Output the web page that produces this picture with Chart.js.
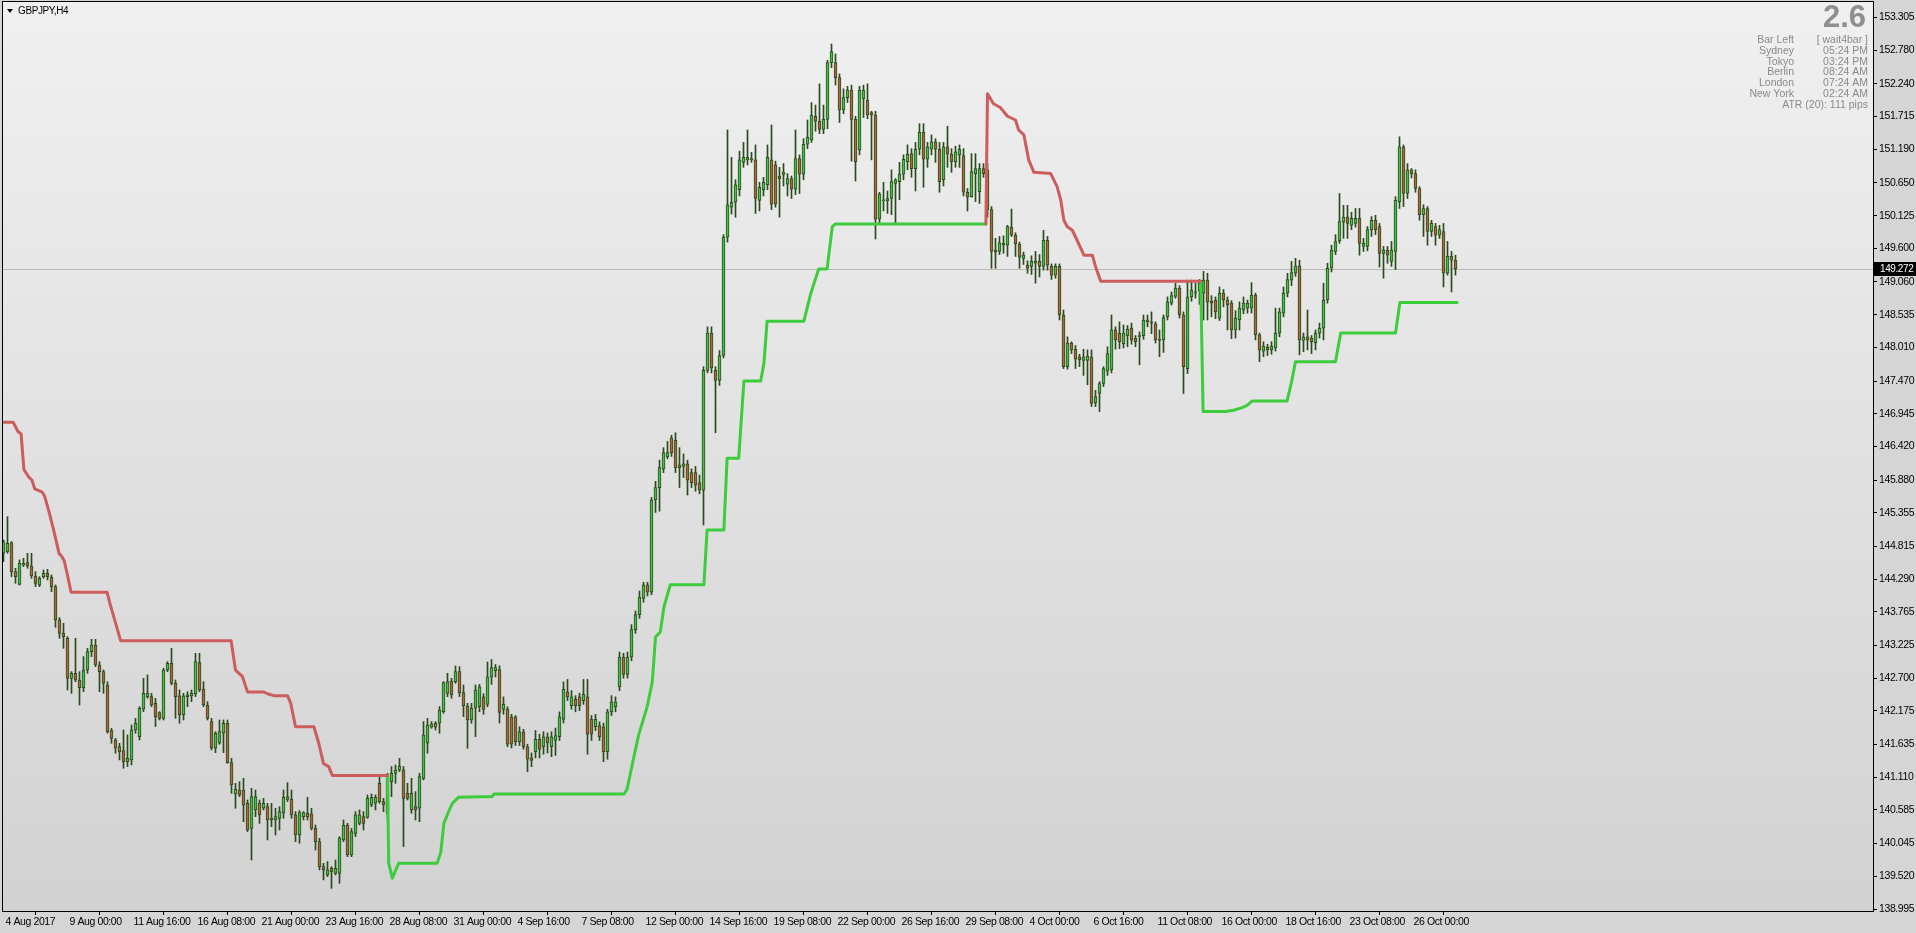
<!DOCTYPE html>
<html>
<head>
<meta charset="utf-8">
<script src="https://cdn.jsdelivr.net/npm/chart.js@4.4.1/dist/chart.umd.min.js"></script>
<style>
html, body { margin: 0; padding: 0; background: #d5d5d5; overflow: hidden; }
#c { display: block; }
</style>
</head>
<body>
<canvas id="c" width="1916" height="933"></canvas>
<script>
// GBPJPY H4, one entry per bar starting 4 Aug 2017 08:00
const dateLabels = ['4 Aug 2017', '9 Aug 00:00', '11 Aug 16:00', '16 Aug 08:00', '21 Aug 00:00', '23 Aug 16:00',
    '28 Aug 08:00', '31 Aug 00:00', '4 Sep 16:00', '7 Sep 08:00', '12 Sep 00:00', '14 Sep 16:00', '19 Sep 08:00',
    '22 Sep 00:00', '26 Sep 16:00', '29 Sep 08:00', '4 Oct 00:00', '6 Oct 16:00', '11 Oct 08:00', '16 Oct 00:00',
    '18 Oct 16:00', '23 Oct 08:00', '26 Oct 00:00'];
const barsPerLabel = 16;

const priceTicks = [153.305, 152.780, 152.240, 151.715, 151.190, 150.650, 150.125, 149.600, 149.060, 148.535,
    148.010, 147.470, 146.945, 146.420, 145.880, 145.355, 144.815, 144.290, 143.765, 143.225, 142.700, 142.175,
    141.635, 141.110, 140.585, 140.045, 139.520, 138.995];
const bid = 149.272;

const opens = [
    144.705, 144.731, 144.876, 144.410, 144.207, 144.517, 144.555, 144.501, 144.341, 144.196,
    144.330, 144.383, 144.319, 144.170, 143.635, 143.420, 143.340, 142.698, 142.778, 142.671,
    142.548, 142.832, 143.126, 143.233, 142.912, 142.805, 142.591, 141.858, 141.708, 141.601,
    141.537, 141.361, 141.388, 141.869, 141.762, 142.201, 142.404, 142.404, 142.297, 142.147,
    142.056, 142.832, 142.939, 142.618, 142.415, 142.110, 142.404, 142.415, 142.447, 142.950,
    142.527, 142.270, 142.003, 141.575, 141.655, 141.816, 141.976, 141.345, 140.842, 140.905,
    140.905, 140.692, 140.290, 140.585, 140.692, 140.612, 140.638, 140.451, 140.424, 140.451,
    140.542, 140.756, 140.756, 140.505, 140.183, 140.478, 140.531, 140.521, 140.290, 140.077,
    139.676, 139.542, 139.649, 139.568, 139.568, 140.103, 140.344, 139.863, 140.210, 140.370,
    140.478, 140.467, 140.665, 140.692, 141.013, 140.719, 140.531, 141.039, 141.173, 141.227,
    141.227, 140.852, 140.585, 140.638, 140.612, 141.093, 141.655, 141.912, 141.976, 141.976,
    142.163, 142.457, 142.655, 142.644, 142.805, 142.468, 142.254, 142.029, 142.217, 142.242,
    142.40, 142.28, 142.72, 142.82, 142.84, 142.20, 142.20, 142.08, 142.08, 141.68,
    141.84, 141.60, 141.42, 141.52, 141.72, 141.60, 141.76, 141.60, 141.70, 141.76,
    142.04, 142.48, 142.26, 142.36, 142.40, 142.34, 142.40, 142.04, 141.92, 141.94,
    141.92, 141.52, 142.16, 142.24, 142.56, 143.04, 142.76, 143.04, 143.48, 143.72,
    143.98, 144.20, 144.08, 145.56, 145.76, 146.06, 146.25, 146.56, 146.52, 146.12,
    146.10, 146.14, 146.00, 146.00, 145.84, 145.72, 147.64, 148.24, 147.64, 147.48,
    147.88, 149.78, 150.26, 150.34, 150.54, 150.98, 151.02, 151.04, 151.02, 150.37,
    150.54, 150.62, 151.02, 150.94, 150.76, 150.78, 150.63, 150.72, 150.55, 151.04,
    150.79, 151.27, 151.34, 151.72, 151.64, 151.51, 151.67, 152.58, 152.58, 152.34,
    151.82, 152.02, 152.14, 151.67, 151.18, 152.00, 151.98, 151.78, 151.74, 150.07,
    150.36, 150.36, 150.40, 150.64, 150.67, 150.79, 150.99, 151.12, 150.88, 151.19,
    151.46, 151.03, 151.19, 151.31, 151.19, 150.70, 151.23, 151.11, 150.99, 151.10,
    151.09, 150.50, 150.43, 150.80, 150.51, 150.88, 150.86, 150.22, 149.57, 149.55,
    149.65, 149.65, 149.94, 149.81, 149.67, 149.44, 149.33, 149.31, 149.36, 149.39,
    149.31, 149.73, 149.31, 149.17, 149.31, 148.53, 147.70, 148.08, 147.98, 147.86,
    147.80, 147.80, 147.86, 147.12, 147.27, 147.43, 147.63, 147.65, 148.29, 148.24,
    148.07, 148.20, 148.32, 148.16, 148.18, 148.20, 148.45, 148.42, 148.39, 148.14,
    148.13, 148.50, 148.72, 148.83, 148.96, 148.53, 147.67, 148.82, 148.88, 148.92,
    148.88, 149.09, 148.75, 148.77, 148.48, 148.88, 148.77, 148.72, 148.29, 148.45,
    148.61, 148.64, 148.64, 148.85, 148.21, 147.95, 148.01, 147.97, 148.00, 148.24,
    148.56, 148.88, 149.09, 149.20, 149.32, 148.12, 148.18, 148.16, 148.08, 148.24,
    148.32, 148.77, 149.28, 149.55, 149.72, 150.02, 150.10, 149.97, 150.00, 150.08,
    149.63, 149.63, 149.90, 150.05, 149.95, 149.52, 149.57, 149.39, 149.55, 150.35,
    151.23, 150.48, 150.86, 150.80, 150.56, 150.14, 150.24, 149.87, 149.95, 149.81,
    149.87, 149.20, 149.47, 149.41
];
const highs = [
    144.918, 145.293, 144.892, 144.464, 144.598, 144.624, 144.705, 144.705, 144.410, 144.330,
    144.437, 144.448, 144.357, 144.196, 143.672, 143.581, 143.367, 142.805, 143.340, 142.805,
    143.046, 143.180, 143.324, 143.324, 142.966, 142.832, 142.644, 141.896, 141.735, 141.655,
    141.869, 141.789, 141.949, 142.056, 142.243, 142.698, 142.752, 142.457, 142.377, 142.163,
    142.859, 142.966, 143.180, 142.671, 142.511, 142.457, 142.484, 142.511, 143.100, 143.100,
    142.644, 142.324, 142.056, 141.842, 142.029, 142.029, 142.029, 141.414, 141.013, 141.039,
    141.093, 140.745, 140.933, 140.905, 140.745, 140.772, 140.692, 140.692, 140.612, 140.638,
    140.905, 141.023, 140.905, 140.558, 140.574, 140.558, 140.788, 140.612, 140.344, 140.130,
    139.729, 139.756, 139.676, 139.782, 140.157, 140.424, 140.370, 140.290, 140.558, 140.585,
    140.558, 140.826, 140.842, 140.826, 141.120, 140.772, 141.173, 141.281, 141.307, 141.414,
    141.281, 141.013, 141.093, 140.879, 141.173, 142.003, 142.056, 142.003, 142.003, 142.243,
    142.644, 142.778, 142.698, 142.896, 142.885, 142.591, 142.297, 142.297, 142.591, 142.601,
    142.45, 142.96, 143.00, 142.92, 142.90, 142.40, 142.24, 142.12, 142.10, 141.92,
    141.88, 141.64, 141.50, 141.86, 141.80, 141.84, 141.82, 141.84, 141.90, 142.16,
    142.64, 142.68, 142.50, 142.42, 142.46, 142.68, 142.68, 142.10, 142.12, 142.00,
    141.98, 142.20, 142.42, 142.40, 143.12, 143.10, 143.12, 143.56, 143.78, 144.10,
    144.24, 144.24, 145.60, 145.86, 146.20, 146.40, 146.50, 146.60, 146.64, 146.40,
    146.30, 146.20, 146.06, 146.10, 145.96, 147.70, 148.34, 148.34, 147.70, 147.96,
    149.82, 151.50, 151.06, 150.70, 151.16, 151.30, 151.50, 151.14, 151.26, 150.66,
    150.74, 151.26, 151.58, 151.00, 150.90, 150.96, 150.80, 150.76, 151.50, 151.10,
    151.36, 151.66, 151.94, 151.90, 152.24, 151.90, 152.62, 152.88, 152.72, 152.40,
    152.16, 152.20, 152.22, 151.72, 152.20, 152.22, 152.24, 151.80, 151.80, 150.50,
    150.66, 150.52, 150.86, 150.72, 150.98, 151.10, 151.26, 151.20, 151.30, 151.60,
    151.60, 151.30, 151.42, 151.36, 151.30, 151.30, 151.56, 151.20, 151.24, 151.26,
    151.20, 150.56, 151.12, 151.12, 150.96, 150.96, 150.96, 150.27, 149.76, 149.79,
    149.80, 149.97, 150.23, 149.85, 149.70, 149.54, 149.40, 149.48, 149.55, 149.50,
    149.89, 149.79, 149.35, 149.35, 149.35, 148.61, 148.18, 148.10, 148.04, 147.90,
    147.98, 147.97, 147.97, 147.32, 147.46, 147.70, 148.02, 148.53, 148.34, 148.42,
    148.37, 148.36, 148.40, 148.20, 148.26, 148.53, 148.53, 148.58, 148.42, 148.29,
    148.53, 148.82, 148.90, 149.04, 149.00, 148.58, 149.09, 149.09, 149.04, 149.10,
    149.23, 149.20, 148.84, 148.82, 148.98, 148.94, 148.82, 148.76, 148.60, 148.74,
    148.82, 148.77, 149.05, 148.88, 148.24, 148.10, 148.06, 148.10, 148.64, 148.64,
    148.98, 149.20, 149.39, 149.44, 149.41, 148.24, 148.61, 148.20, 148.29, 148.40,
    149.04, 149.36, 149.65, 149.82, 150.48, 150.29, 150.29, 150.18, 150.24, 150.24,
    149.76, 149.95, 150.11, 150.13, 150.00, 149.63, 149.63, 149.71, 150.43, 151.39,
    151.26, 150.96, 150.88, 150.86, 150.59, 150.30, 150.27, 150.05, 150.00, 149.97,
    150.00, 149.71, 149.55, 149.49
];
const lows = [
    144.571, 144.705, 144.330, 144.223, 144.196, 144.491, 144.464, 144.303, 144.170, 144.170,
    144.303, 144.277, 144.089, 143.517, 143.340, 143.180, 142.511, 142.457, 142.644, 142.270,
    142.484, 142.778, 143.046, 142.885, 142.484, 142.457, 141.816, 141.655, 141.495, 141.388,
    141.254, 141.281, 141.308, 141.816, 141.708, 142.163, 142.377, 142.243, 141.923, 142.029,
    142.029, 142.805, 142.591, 142.056, 141.976, 142.029, 142.243, 142.324, 142.404, 142.484,
    142.243, 142.029, 141.548, 141.505, 141.640, 141.505, 141.334, 140.852, 140.612, 140.799,
    140.397, 140.237, 139.782, 140.478, 140.370, 140.585, 140.103, 140.317, 140.183, 140.264,
    140.451, 140.719, 140.451, 140.077, 140.050, 140.424, 140.424, 140.264, 139.943, 139.622,
    139.462, 139.515, 139.327, 139.542, 139.408, 140.077, 139.835, 139.835, 140.157, 140.344,
    140.264, 140.451, 140.638, 140.585, 140.692, 140.558, 140.451, 140.799, 141.013, 141.200,
    139.997, 140.745, 140.531, 140.424, 140.397, 141.067, 141.495, 141.896, 141.869, 141.816,
    142.136, 142.404, 142.377, 142.618, 142.404, 142.083, 141.575, 141.976, 141.762, 142.162,
    142.12, 142.24, 142.60, 142.72, 141.98, 142.12, 141.60, 141.58, 141.62, 141.62,
    141.56, 141.20, 141.28, 141.42, 141.42, 141.48, 141.50, 141.44, 141.46, 141.70,
    141.98, 142.34, 142.20, 142.16, 142.18, 142.28, 141.48, 141.70, 141.86, 141.70,
    141.36, 141.40, 142.10, 142.16, 142.50, 142.70, 142.70, 142.98, 143.42, 143.66,
    143.92, 144.02, 144.04, 145.36, 145.38, 146.00, 146.22, 146.26, 146.00, 145.76,
    145.92, 145.64, 145.76, 145.70, 145.66, 145.16, 147.60, 147.60, 146.64, 147.40,
    147.84, 149.70, 150.15, 150.10, 150.44, 150.90, 150.94, 150.98, 150.16, 150.20,
    150.44, 150.54, 150.22, 150.26, 150.10, 150.60, 150.44, 150.40, 150.46, 150.48,
    150.70, 151.20, 151.30, 151.48, 151.44, 151.44, 151.52, 152.50, 152.22, 151.62,
    151.76, 151.94, 151.00, 150.68, 151.10, 151.70, 151.68, 151.02, 149.75, 149.98,
    150.20, 150.16, 150.14, 149.98, 150.38, 150.70, 150.86, 150.74, 150.52, 151.10,
    150.58, 150.90, 151.10, 150.98, 150.50, 150.60, 150.90, 150.82, 150.90, 150.90,
    150.44, 150.20, 150.42, 150.35, 150.32, 150.74, 150.10, 149.28, 149.28, 149.50,
    149.52, 149.47, 149.79, 149.47, 149.28, 149.34, 149.20, 149.18, 149.04, 149.14,
    149.25, 149.25, 149.10, 149.12, 148.45, 147.67, 147.66, 147.91, 147.67, 147.70,
    147.56, 147.41, 147.06, 147.06, 146.98, 147.38, 147.56, 147.60, 147.98, 147.99,
    148.00, 148.02, 148.06, 148.02, 147.73, 148.14, 148.34, 148.23, 148.08, 147.86,
    147.93, 148.45, 148.69, 148.80, 148.48, 147.27, 147.59, 148.75, 148.80, 148.70,
    148.45, 148.45, 148.50, 148.47, 148.44, 148.66, 148.29, 148.15, 148.16, 148.29,
    148.55, 148.56, 148.56, 148.13, 147.78, 147.86, 147.88, 147.90, 147.95, 148.18,
    148.50, 148.82, 149.00, 149.15, 147.89, 147.94, 147.97, 147.91, 147.97, 148.16,
    148.13, 148.72, 149.22, 149.50, 149.68, 149.76, 149.76, 149.90, 149.94, 149.49,
    149.55, 149.56, 149.79, 149.82, 149.30, 149.12, 149.36, 149.31, 149.26, 150.24,
    150.27, 150.40, 150.73, 150.50, 150.05, 149.79, 149.65, 149.79, 149.65, 149.76,
    148.98, 149.17, 148.90, 149.17
];
const closes = [
    144.892, 144.865, 144.410, 144.330, 144.544, 144.544, 144.501, 144.341, 144.223, 144.303,
    144.383, 144.330, 144.170, 143.635, 143.420, 143.367, 142.698, 142.778, 142.671, 142.548,
    142.832, 143.126, 143.233, 142.912, 142.805, 142.618, 141.842, 141.735, 141.575, 141.521,
    141.361, 141.414, 141.869, 141.976, 142.217, 142.457, 142.457, 142.270, 142.083, 142.056,
    142.832, 142.939, 142.618, 142.404, 142.110, 142.415, 142.431, 142.457, 142.966, 142.511,
    142.270, 142.056, 141.575, 141.816, 141.842, 141.976, 141.345, 140.986, 140.916, 140.826,
    140.665, 140.264, 140.799, 140.799, 140.505, 140.692, 140.424, 140.424, 140.478, 140.558,
    140.788, 140.799, 140.505, 140.183, 140.542, 140.542, 140.478, 140.290, 140.077, 139.676,
    139.622, 139.622, 139.595, 139.649, 140.130, 140.344, 139.863, 140.237, 140.505, 140.505,
    140.370, 140.772, 140.788, 140.788, 140.719, 140.665, 141.120, 141.173, 141.227, 141.291,
    140.772, 140.772, 140.852, 140.585, 141.120, 141.789, 141.949, 141.966, 141.912, 142.190,
    142.629, 142.644, 142.431, 142.805, 142.468, 142.254, 142.029, 142.217, 142.511, 142.561,
    142.20, 142.72, 142.87, 142.87, 142.15, 142.28, 141.64, 141.64, 141.68, 141.84,
    141.60, 141.40, 141.38, 141.72, 141.56, 141.76, 141.66, 141.76, 141.78, 142.08,
    142.52, 142.40, 142.40, 142.26, 142.26, 142.44, 141.80, 141.80, 142.04, 141.76,
    141.52, 142.16, 142.32, 142.32, 143.04, 142.76, 143.04, 143.48, 143.72, 144.00,
    144.20, 144.08, 145.56, 145.76, 146.08, 146.32, 146.32, 146.32, 146.08, 146.08,
    146.14, 145.88, 145.84, 145.80, 145.72, 147.64, 148.24, 147.68, 147.48, 147.88,
    149.78, 150.30, 150.34, 150.62, 151.02, 151.06, 151.06, 151.02, 150.40, 150.58,
    150.66, 151.06, 150.31, 150.31, 150.72, 150.82, 150.72, 150.55, 151.04, 150.79,
    151.27, 151.38, 151.74, 151.64, 151.51, 151.67, 152.58, 152.76, 152.34, 151.82,
    152.02, 152.14, 151.67, 150.99, 152.14, 152.14, 151.74, 151.74, 150.07, 150.47,
    150.38, 150.40, 150.67, 150.70, 150.79, 151.03, 151.11, 150.88, 151.19, 151.46,
    151.03, 151.23, 151.31, 151.19, 150.67, 151.23, 151.11, 150.99, 151.15, 151.19,
    150.50, 150.42, 150.83, 150.88, 150.88, 150.80, 150.22, 149.55, 149.54, 149.69,
    149.68, 149.95, 149.81, 149.67, 149.46, 149.49, 149.28, 149.39, 149.40, 149.31,
    149.73, 149.33, 149.17, 149.31, 148.53, 147.70, 148.08, 147.97, 147.82, 147.81,
    147.86, 147.87, 147.11, 147.22, 147.43, 147.67, 147.91, 148.29, 148.13, 148.10,
    148.24, 148.30, 148.13, 148.10, 148.20, 148.45, 148.42, 148.40, 148.13, 148.12,
    148.49, 148.74, 148.84, 148.96, 148.53, 147.70, 148.82, 148.93, 148.90, 149.04,
    149.09, 148.74, 148.72, 148.58, 148.88, 148.77, 148.69, 148.29, 148.48, 148.64,
    148.72, 148.72, 148.85, 148.21, 147.97, 148.03, 147.97, 148.03, 148.24, 148.58,
    148.88, 149.10, 149.21, 149.32, 148.13, 148.18, 148.13, 148.10, 148.24, 148.32,
    148.77, 149.28, 149.57, 149.71, 150.03, 150.10, 150.00, 150.08, 150.08, 149.68,
    149.68, 149.90, 150.05, 149.90, 149.52, 149.57, 149.49, 149.57, 150.37, 151.23,
    150.48, 150.86, 150.80, 150.56, 150.14, 150.24, 149.87, 150.00, 149.81, 149.90,
    149.20, 149.47, 149.41, 149.272
];

// trailing stop lines: [bar, price]
const redLine1 = [[0, 146.81], [2.4, 146.81], [3.6, 146.66], [4.4, 146.62], [5.1, 146.05], [6.3, 145.93],
    [7.1, 145.88], [7.8, 145.74], [9.6, 145.69], [10.3, 145.62], [11.5, 145.34], [12.6, 145.06], [13.9, 144.70],
    [14.5, 144.66], [15.2, 144.58], [15.9, 144.38], [16.9, 144.08], [25.9, 144.08], [26.6, 143.90], [29.3, 143.30],
    [56.9, 143.30], [58, 142.83], [59.7, 142.73], [61, 142.48], [65, 142.48], [66, 142.45], [67.6, 142.42],
    [71, 142.42], [71.8, 142.30], [73, 141.92], [77.6, 141.92], [78.8, 141.66], [80, 141.33], [81.3, 141.28],
    [82.2, 141.14], [96, 141.14]];
const redLine2 = [[245.6, 149.99], [246, 152.08], [247.5, 151.92], [249.2, 151.86], [251, 151.72], [253, 151.66],
    [253.8, 151.50], [255.1, 151.42], [256.3, 151.02], [257.6, 150.82], [261.8, 150.80], [263.4, 150.59],
    [264.3, 150.38], [265.1, 150.05], [265.9, 149.95], [267.2, 149.89], [268.4, 149.73], [270.1, 149.49],
    [272.2, 149.49], [273, 149.31], [274.3, 149.07], [299.3, 149.07]];
const greenLine1 = [[96, 141.14], [96.3, 139.73], [97.2, 139.49], [98.8, 139.73], [108.4, 139.73], [109.3, 139.90],
    [110.1, 140.37], [111.3, 140.56], [112.2, 140.69], [113.8, 140.79], [122.2, 140.80], [122.6, 140.84],
    [155.1, 140.84], [155.9, 140.92], [157.6, 141.44], [158.8, 141.79], [160.9, 142.24], [162.2, 142.64],
    [163, 143.36], [164.2, 143.44], [165.1, 143.84], [166.7, 144.20], [175.1, 144.20], [175.9, 145.08],
    [180.1, 145.08], [180.9, 146.23], [183.8, 146.23], [185.1, 147.47], [189.3, 147.47], [190.1, 147.75],
    [190.9, 148.43], [200.1, 148.43], [201.8, 148.87], [203.8, 149.27], [205.9, 149.27], [207.2, 149.95],
    [208, 149.99], [245.6, 149.99]];
const greenLine2 = [[299.3, 149.07], [299.9, 146.98], [305.5, 146.98], [307.5, 147.00], [309.5, 147.04],
    [310.9, 147.08], [312.2, 147.15], [320.9, 147.15], [322, 147.45], [323, 147.78], [333, 147.78],
    [334.3, 148.24], [348, 148.24], [349.1, 148.73], [363.4, 148.73]];

const infoRows = [['Bar Left', '[ wait4bar ]'], ['Sydney', '05:24 PM'], ['Tokyo', '03:24 PM'],
    ['Berlin', '08:24 AM'], ['London', '07:24 AM'], ['New York', '02:24 AM']];

const axisFont = "'Liberation Sans', Arial, sans-serif";
const edge = '#2b4a1d';

const toPts = (a) => a.map((p) => ({ x: p[0], y: p[1] }));
const stopLine = (pts, color) => ({
    type: 'line',
    data: toPts(pts),
    borderColor: color,
    borderWidth: 3,
    pointRadius: 0,
    tension: 0,
    borderJoinStyle: 'round',
    borderCapStyle: 'round',
    order: 0
});

const mt4 = {
    id: 'mt4',
    beforeDraw(chart) {
        const { ctx, chartArea: a, width, height } = chart;
        ctx.letterSpacing = '-0.4px';
        ctx.save();
        ctx.fillStyle = '#d5d5d5';
        ctx.fillRect(0, 0, width, height);
        const g = ctx.createLinearGradient(0, a.top, 0, a.bottom);
        g.addColorStop(0, '#f0f0f0');
        g.addColorStop(1, '#d2d2d2');
        ctx.fillStyle = g;
        ctx.fillRect(a.left, a.top, a.right - a.left, a.bottom - a.top);
        ctx.restore();
    },
    beforeDatasetsDraw(chart) {
        const { ctx, chartArea: a } = chart;
        const y = Math.round(chart.scales.y.getPixelForValue(bid)) + 0.5;
        ctx.save();
        ctx.strokeStyle = '#b8b8b8';
        ctx.lineWidth = 1;
        ctx.beginPath();
        ctx.moveTo(a.left, y);
        ctx.lineTo(a.right, y);
        ctx.stroke();
        ctx.restore();
    },
    afterDraw(chart) {
        const { ctx, chartArea: a } = chart;
        ctx.save();
        // frame
        ctx.strokeStyle = '#000';
        ctx.lineWidth = 1;
        ctx.strokeRect(a.left - 0.5, a.top - 0.5, a.right - a.left + 1, a.bottom - a.top + 1);

        // bid label
        const y = Math.round(chart.scales.y.getPixelForValue(bid));
        ctx.fillStyle = '#000';
        ctx.fillRect(a.right + 1, y - 7, 43, 14);
        ctx.fillStyle = '#fff';
        ctx.font = '10px ' + axisFont;
        ctx.textBaseline = 'middle';
        ctx.textAlign = 'left';
        ctx.fillText(bid.toFixed(3), a.right + 7, y + 0.5);

        // symbol title
        ctx.fillStyle = '#000';
        ctx.beginPath();
        ctx.moveTo(7, 9);
        ctx.lineTo(13, 9);
        ctx.lineTo(10, 13);
        ctx.closePath();
        ctx.fill();
        ctx.fillText('GBPJPY,H4', 18, 11);

        // info panel
        ctx.letterSpacing = '0px';
        ctx.fillStyle = '#8f8f8f';
        ctx.textAlign = 'right';
        ctx.textBaseline = 'alphabetic';
        ctx.font = 'bold 31px ' + axisFont;
        ctx.fillText('2.6', 1866, 27);
        ctx.fillStyle = '#8a8a8a';
        ctx.font = '10.5px ' + axisFont;
        infoRows.forEach((r, k) => {
            const ty = 43 + k * 10.8;
            ctx.fillText(r[0], 1794, ty);
            ctx.fillText(r[1], 1868, ty);
        });
        ctx.fillText('ATR (20): 111 pips', 1868, 43 + 6 * 10.8);
        ctx.restore();
    }
};

new Chart(document.getElementById('c').getContext('2d'), {
    type: 'bar',
    data: {
        datasets: [
            stopLine(redLine1, '#cd5c5c'),
            stopLine(redLine2, '#cd5c5c'),
            stopLine(greenLine1, '#3ccc3c'),
            stopLine(greenLine2, '#3ccc3c'),
            {
                type: 'bar',
                label: 'bodies',
                data: opens.map((o, i) => ({ x: i, y: [o, closes[i]] })),
                backgroundColor: opens.map((o, i) => (closes[i] >= o ? '#46c046' : '#b0673c')),
                borderColor: edge,
                borderWidth: 1,
                borderSkipped: false,
                barThickness: 3,
                minBarLength: 1,
                grouped: false,
                order: 1
            },
            {
                type: 'bar',
                label: 'wicks',
                data: highs.map((h, i) => ({ x: i, y: [lows[i], h] })),
                backgroundColor: edge,
                borderWidth: 0,
                barThickness: 1,
                grouped: false,
                order: 2
            }
        ]
    },
    options: {
        responsive: false,
        animation: false,
        events: [],
        layout: { padding: { left: 3, top: 2, right: 0, bottom: 0 } },
        plugins: {
            legend: { display: false },
            tooltip: { enabled: false }
        },
        scales: {
            x: {
                type: 'linear',
                min: -0.125,
                max: 467.375,
                offset: false,
                border: { display: false },
                grid: { drawOnChartArea: false, drawTicks: true, tickLength: 4, color: '#000' },
                afterBuildTicks: (s) => {
                    s.ticks = dateLabels.map((t, k) => ({ value: k * barsPerLabel }));
                },
                ticks: {
                    autoSkip: false,
                    maxRotation: 0,
                    align: 'start',
                    labelOffset: 2,
                    padding: 1,
                    color: '#000',
                    font: { family: axisFont, size: 10.5 },
                    callback: (v) => dateLabels[Math.round(v / barsPerLabel)]
                },
                afterFit: (s) => {
                    s.height = 22;
                    s.paddingLeft = 0;
                    s.paddingRight = 0;
                }
            },
            y: {
                position: 'right',
                min: 138.963,
                max: 153.554,
                border: { display: false },
                grid: { drawOnChartArea: false, drawTicks: true, tickLength: 4, color: '#000' },
                afterBuildTicks: (s) => {
                    s.ticks = priceTicks.map((v) => ({ value: v }));
                },
                ticks: {
                    autoSkip: false,
                    padding: 2,
                    color: '#000',
                    font: { family: axisFont, size: 10.5 },
                    callback: (v) => v.toFixed(3)
                },
                afterFit: (s) => {
                    s.width = 43;
                    s.paddingTop = 0;
                    s.paddingBottom = 0;
                }
            }
        }
    },
    plugins: [mt4]
});
</script>
</body>
</html>
